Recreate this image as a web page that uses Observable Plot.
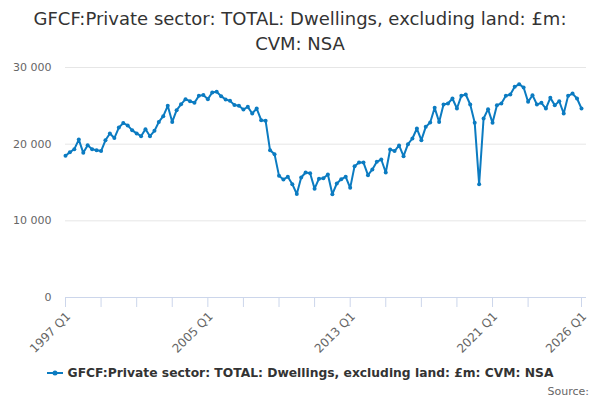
<!DOCTYPE html>
<html>
<head>
<meta charset="utf-8">
<script src="https://cdn.jsdelivr.net/npm/d3@7"></script>
<script src="https://cdn.jsdelivr.net/npm/@observablehq/plot@0.6"></script>
<style>
  body { margin: 0; width: 600px; height: 400px; background: #fff; font-family: "DejaVu Sans", sans-serif; overflow: hidden; }
  #title { height: 56px; padding-top: 6px; box-sizing: border-box; text-align: center; font-size: 18px; line-height: 25px; color: #333; }
  #chart svg { display: block; }
  #legend { height: 24px; display: flex; justify-content: center; align-items: center; font-size: 12.3px; font-weight: bold; color: #333; }
  #legend svg { margin-right: 5px; }
  #source { text-align: right; padding-right: 11px; font-size: 11px; color: #666; line-height: 14px; }
</style>
</head>
<body>
<div id="title">GFCF:Private sector: TOTAL: Dwellings, excluding land: £m:<br>CVM: NSA</div>
<div id="chart"></div>
<div id="legend"></div>
<div id="source">Source:</div>
<script>
// quarterly series, 1997 Q1 .. 2026 Q1, £m (thousands)
const startYear = 1997
const values = [
  18.48, 18.95, 19.35, 20.6, 18.87, 19.87, 19.35, 19.2, 19.1, 20.5,
  21.4, 20.8, 22.17, 22.75, 22.45, 21.8, 21.4, 21.04, 21.96, 21.04,
  21.74, 22.9, 23.65, 25.0, 22.9, 24.43, 25.2, 25.87, 25.6, 25.4,
  26.3, 26.4, 25.87, 26.74, 26.83, 26.26, 25.83, 25.65, 25.1, 25.0,
  24.52, 24.87, 24.0, 24.65, 23.13, 23.04, 19.2, 18.7, 15.87, 15.4,
  15.74, 14.78, 13.5, 15.65, 16.3, 16.2, 14.2, 15.5, 15.55, 16.04,
  13.48, 14.87, 15.43, 15.74, 14.3, 17.13, 17.6, 17.6, 15.96, 16.7,
  17.7, 18.0, 16.3, 19.3, 19.1, 19.83, 18.43, 20.0, 20.74, 22.04,
  20.52, 22.26, 22.83, 24.74, 22.9, 25.17, 25.3, 25.96, 24.65, 26.3,
  26.48, 25.17, 22.78, 14.78, 23.35, 24.57, 22.78, 25.09, 25.3, 26.3,
  26.48, 27.48, 27.83, 27.39, 25.52, 26.39, 25.17, 25.39, 24.65, 26.04,
  25.09, 25.6, 24.0, 26.3, 26.6, 25.96, 24.65
]
const seriesName = "GFCF:Private sector: TOTAL: Dwellings, excluding land: £m: CVM: NSA"
const yTicks = [0, 10000, 20000, 30000]
const tickYears = [1997, 1999, 2001, 2003, 2005, 2007, 2009, 2011, 2013, 2015, 2017, 2019, 2021, 2023, 2026]
const labelYears = [1997, 2005, 2013, 2021, 2026]
const lineColor = "#0b7bc1"

const data = values.map((v, i) => ({
  date: new Date(startYear + Math.floor(i / 4), (i % 4) * 3, 1),
  value: v * 1000
}))

const fmt = d3.formatLocale({decimal: ".", thousands: " ", grouping: [3], currency: ["", ""]}).format(",")

const chart = Plot.plot({
  width: 600,
  height: 305,
  marginTop: 11,
  marginLeft: 65,
  marginRight: 19,
  marginBottom: 64,
  style: {fontFamily: "DejaVu Sans, sans-serif", fontSize: "11px", color: "#666"},
  x: {type: "time", domain: [new Date(1997, 0, 1), new Date(2026, 0, 1)]},
  y: {domain: [0, 30000]},
  marks: [
    Plot.ruleY(yTicks.slice(1), {stroke: "#e6e6e6", strokeOpacity: 1, insetRight: -5}),
    Plot.ruleY([0], {stroke: "#ccd6eb", strokeOpacity: 1, insetRight: -5}),
    Plot.axisY({ticks: yTicks, tickFormat: fmt, tickSize: 0, tickPadding: 14, label: null, fill: "#666"}),
    // tick marks
    Plot.axisX({
      ticks: tickYears.map(y => new Date(y, 0, 1)),
      tickFormat: () => "",
      tickSize: 10,
      stroke: "#ccd6eb",
      strokeOpacity: 1,
      label: null
    }),
    // rotated labels
    Plot.axisX({
      ticks: labelYears.map(y => new Date(y, 0, 1)),
      tickFormat: d => `${d.getFullYear()} Q1`,
      tickSize: 0,
      tickPadding: 17,
      tickRotate: -45,
      dx: 3,
      fill: "#666",
      fontSize: 12,
      label: null
    }),
    Plot.line(data, {x: "date", y: "value", stroke: lineColor, strokeWidth: 2}),
    Plot.dot(data, {x: "date", y: "value", r: 2, fill: lineColor, stroke: null})
  ]
})
document.getElementById("chart").append(chart)

// legend
const legend = d3.select("#legend")
const sym = legend.append("svg").attr("width", 16).attr("height", 10)
sym.append("line").attr("x1", 0).attr("x2", 16).attr("y1", 5).attr("y2", 5)
  .attr("stroke", lineColor).attr("stroke-width", 2)
sym.append("circle").attr("cx", 8).attr("cy", 5).attr("r", 2.5).attr("fill", lineColor)
legend.append("span").text(seriesName)
</script>
</body>
</html>
